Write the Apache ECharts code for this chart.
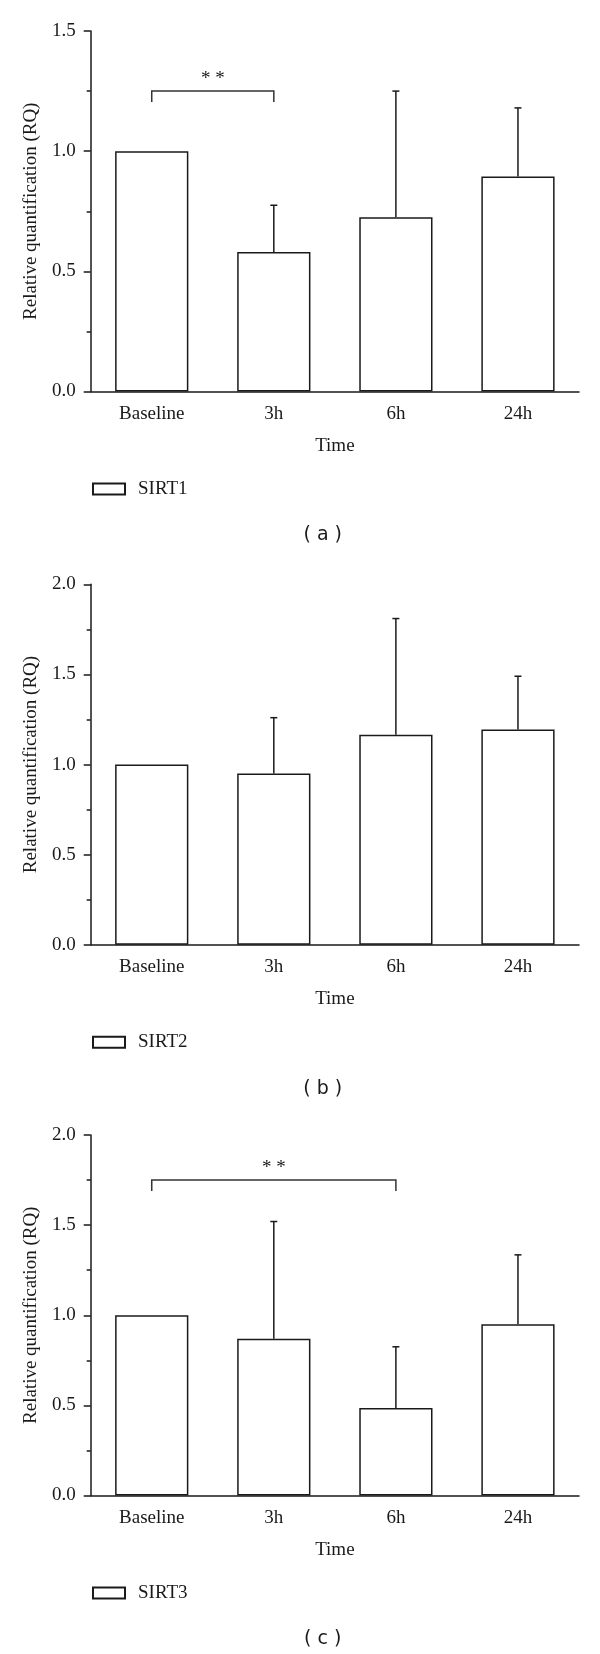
<!DOCTYPE html>
<html>
<head>
<meta charset="utf-8">
<script src="https://cdn.jsdelivr.net/npm/echarts@6/dist/echarts.min.js"></script>
<style>
  body { margin: 0; background: #fff; }
  #main { width: 600px; height: 1654px; }
</style>
</head>
<body>
<div id="main"></div>
<script>
// data
var categories = ['Baseline', '3h', '6h', '24h'];

var sirt1Mean = [1.0, 0.58, 0.725, 0.895];
var sirt1Upper = [null, 0.775, 1.25, 1.18];
var sirt2Mean = [1.0, 0.95, 1.165, 1.195];
var sirt2Upper = [null, 1.26, 1.81, 1.49];
var sirt3Mean = [1.0, 0.87, 0.485, 0.95];
var sirt3Upper = [null, 1.52, 0.825, 1.335];

// significance brackets: [from category, to category, height]
var sirt1Sig = [[0, 1, 1.25]];
var sirt2Sig = [];
var sirt3Sig = [[0, 2, 1.75]];
var sigText = '* *';

var yMax = [1.5, 2.0, 2.0];
var panelNames = ['SIRT1', 'SIRT2', 'SIRT3'];
var panelTags = ['( a )', '( b )', '( c )'];

var serif = 'Liberation Serif';
var ink = '#1a1a1a';

var main = echarts.init(document.getElementById('main'));

// layout of each panel
var gridTops = [31, 584.3, 1135];
var gridH = 360.5;

function errData(mean, upper) {
    var out = [];
    for (var i = 0; i < mean.length; i++) {
        if (upper[i] != null) out.push([i, mean[i], upper[i]]);
    }
    return out;
}

function renderErr(params, api) {
    var p0 = api.coord([api.value(0), api.value(1)]);
    var p1 = api.coord([api.value(0), api.value(2)]);
    var st = { stroke: ink, lineWidth: 1.5 };
    return {
        type: 'group',
        children: [
            { type: 'line', shape: { x1: p0[0], y1: p0[1], x2: p1[0], y2: p1[1] }, style: st },
            { type: 'line', shape: { x1: p1[0] - 3.5, y1: p1[1], x2: p1[0] + 3.5, y2: p1[1] }, style: st }
        ]
    };
}

function renderSig(params, api) {
    var a = api.coord([api.value(0), api.value(2)]);
    var b = api.coord([api.value(1), api.value(2)]);
    return {
        type: 'group',
        children: [
            {
                type: 'polyline',
                shape: { points: [[a[0], a[1] + 11], [a[0], a[1]], [b[0], b[1]], [b[0], b[1] + 11]] },
                style: { stroke: '#333', lineWidth: 1.5, fill: null }
            },
            {
                type: 'text',
                x: (a[0] + b[0]) / 2, y: a[1] - 3,
                style: { text: sigText, textAlign: 'center', textVerticalAlign: 'bottom', font: '19px "' + serif + '"', fill: ink }
            }
        ]
    };
}

var means = [sirt1Mean, sirt2Mean, sirt3Mean];
var uppers = [sirt1Upper, sirt2Upper, sirt3Upper];
var sigs = [sirt1Sig, sirt2Sig, sirt3Sig];

var grid = [], xAxis = [], yAxis = [], series = [], legend = [], graphic = [];

for (var k = 0; k < 3; k++) {
    grid.push({ left: 90.7, right: 21, top: gridTops[k], height: gridH });

    // main x axis: ticks under the bars
    xAxis.push({
        type: 'category', gridIndex: k, data: categories,
        name: 'Time', nameLocation: 'middle', nameGap: 45,
        nameTextStyle: { fontFamily: serif, fontSize: 19, color: ink },
        axisLine: { lineStyle: { color: ink, width: 1.5 } },
        axisTick: { alignWithLabel: true, length: 6, lineStyle: { color: ink, width: 1.5 } },
        axisLabel: { margin: 13, fontFamily: serif, fontSize: 19, color: ink }
    });
    // second x axis: small ticks between categories
    xAxis.push({
        type: 'category', gridIndex: k, data: categories, position: 'bottom',
        axisLine: { show: false },
        axisTick: { length: 3.5, lineStyle: { color: ink, width: 1.5 } },
        axisLabel: { show: false }
    });

    yAxis.push({
        type: 'value', gridIndex: k, min: 0, max: yMax[k], interval: 0.5,
        name: 'Relative quantification (RQ)', nameLocation: 'middle', nameGap: 50,
        nameTextStyle: { fontFamily: serif, fontSize: 19, color: ink },
        axisLine: { show: true, lineStyle: { color: ink, width: 1.5 } },
        axisTick: { show: true, length: 7, lineStyle: { color: ink, width: 1.5 } },
        minorTick: { show: true, splitNumber: 2, length: 4, lineStyle: { color: ink, width: 1.5 } },
        splitLine: { show: false },
        axisLabel: {
            margin: 15, fontFamily: serif, fontSize: 19, color: ink,
            formatter: function (v) { return v.toFixed(1); }
        }
    });

    series.push({
        name: panelNames[k], type: 'bar', xAxisIndex: 2 * k, yAxisIndex: k,
        data: means[k], barCategoryGap: '40%',
        itemStyle: { color: '#fff', borderColor: ink, borderWidth: 1.5 }
    });
    series.push({
        type: 'custom', xAxisIndex: 2 * k, yAxisIndex: k,
        data: errData(means[k], uppers[k]), renderItem: renderErr, z: 5
    });
    if (sigs[k].length) {
        series.push({
            type: 'custom', xAxisIndex: 2 * k, yAxisIndex: k,
            data: sigs[k], renderItem: renderSig, z: 5, clip: false
        });
    }

    var axisY = gridTops[k] + gridH;
    legend.push({
        data: [panelNames[k]], left: 92, top: axisY + 88, padding: 0,
        icon: 'rect', itemWidth: 32, itemHeight: 11,
        textStyle: { fontFamily: serif, fontSize: 19, color: ink, padding: [0, 0, 0, 8] }
    });

    graphic.push({
        type: 'text', x: 322.7, y: axisY + 144,
        style: { text: panelTags[k], textAlign: 'center', textVerticalAlign: 'middle', font: '19px "DejaVu Sans"', fill: ink }
    });
}

var option = {
    animation: false,
    backgroundColor: '#fff',
    grid: grid,
    xAxis: xAxis,
    yAxis: yAxis,
    legend: legend,
    graphic: graphic,
    series: series
};

main.setOption(option);
</script>
</body>
</html>
